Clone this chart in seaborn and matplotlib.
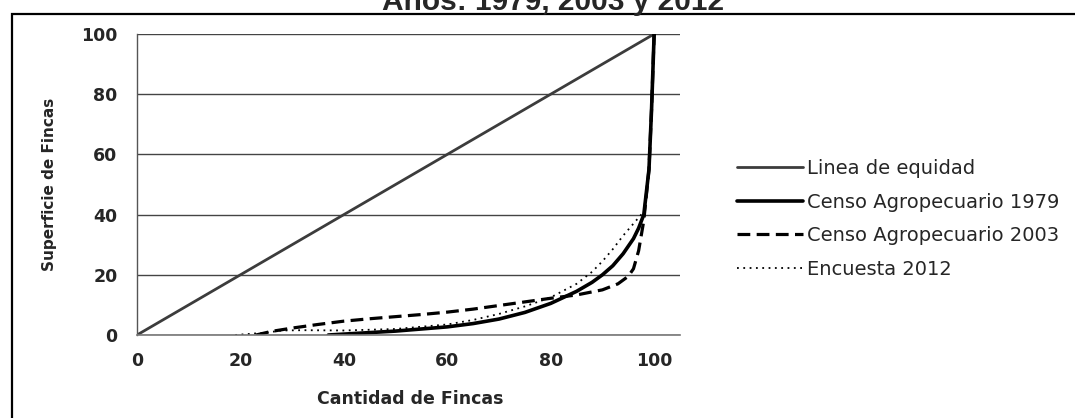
import matplotlib
matplotlib.use("Agg")
import matplotlib.pyplot as plt
import seaborn as sns
import pandas as pd
from matplotlib.patches import Rectangle

# ---- data ----
equidad_x = [0, 100]
equidad_y = [0, 100]

c1979_x = [37, 45, 50, 55, 60, 65, 70, 75, 80, 85, 88, 90, 92, 94, 96, 97, 98, 99, 99.5, 100]
c1979_y = [0, 0.8, 1.3, 2.0, 2.7, 3.8, 5.3, 7.5, 10.5, 14.5, 17.5, 20, 23, 27, 32, 35.5, 40, 55, 75, 100]

c2003_x = [23, 26, 30, 35, 40, 45, 50, 55, 60, 65, 70, 75, 80, 85, 90, 93, 95, 96, 97, 98, 99, 99.5, 100]
c2003_y = [0, 1.2, 2.3, 3.5, 4.6, 5.4, 6.1, 6.8, 7.6, 8.6, 9.8, 11, 12.2, 13.3, 15, 17, 19.5, 22, 28, 38, 55, 75, 100]

e2012_x = [19, 25, 28, 32, 40, 50, 60, 65, 70, 75, 80, 85, 88, 90, 92, 94, 96, 98, 99, 99.5, 100]
e2012_y = [0, 0.8, 1.5, 1.6, 1.5, 2.0, 3.5, 5.0, 7.0, 9.5, 12.5, 17, 21, 24.5, 28.5, 33, 37, 41, 55, 75, 100]

series_names = ["Linea de equidad", "Censo Agropecuario 1979",
                "Censo Agropecuario 2003", "Encuesta 2012"]
x_ticks = [0, 20, 40, 60, 80, 100]
y_ticks = [0, 20, 40, 60, 80, 100]
title = "Años: 1979, 2003 y 2012"
xlabel = "Cantidad de Fincas"
ylabel = "Superficie de Fincas"

# ---- style ----
sns.set_style("white")
plt.rcParams["font.family"] = ["DejaVu Sans"]

fig = plt.figure(figsize=(10.75, 4.18), dpi=100)
ax = fig.add_axes([137/1075, 1-335/418, (680-137)/1075, (335-34)/418])

datasets = [
    (equidad_x, equidad_y, dict(color="#3c3c3c", lw=2.0, linestyle="-")),
    (c1979_x, c1979_y, dict(color="black", lw=2.6, linestyle="-")),
    (c2003_x, c2003_y, dict(color="black", lw=2.3, dashes=(4, 2))),
    (e2012_x, e2012_y, dict(color="black", lw=1.3, dashes=(1, 2.5))),
]
for name, (xs, ys, kw) in zip(series_names, datasets):
    df = pd.DataFrame({"x": xs, "y": ys})
    sns.lineplot(data=df, x="x", y="y", ax=ax, sort=False, label=name, **kw)

ax.set_xlim(0, 105)
ax.set_ylim(0, 100)
ax.set_xticks(x_ticks)
ax.set_yticks(y_ticks)
ax.yaxis.grid(True, color="#444444", lw=1.0)
ax.xaxis.grid(False)
ax.set_axisbelow(True)
for s in ["top", "right"]:
    ax.spines[s].set_visible(False)
ax.spines["left"].set_color("#555555")
ax.spines["left"].set_linewidth(1.0)
ax.spines["bottom"].set_color("#777777")
ax.spines["bottom"].set_linewidth(1.2)
ax.tick_params(axis="both", length=0, labelsize=12.5)
ax.tick_params(axis="y", pad=14)
ax.tick_params(axis="x", pad=12)
for lab in ax.get_xticklabels() + ax.get_yticklabels():
    lab.set_fontweight("bold")

ax.set_xlabel(xlabel, fontsize=12.5, fontweight="bold")
ax.set_ylabel(ylabel, fontsize=11, fontweight="bold", family=["DejaVu Sans"])
ax.xaxis.set_label_coords(0.503, -0.183)
ax.yaxis.set_label_coords(-0.147, 0.5)

ax.get_legend().remove()
handles, labels = ax.get_legend_handles_labels()
fig.legend(handles, labels, loc="center left", bbox_to_anchor=(737/1075, 1-219/418),
           frameon=False, fontsize=14, handlelength=3.4, handletextpad=0.2,
           labelspacing=0.75, borderpad=0, borderaxespad=0)

fig.text(553/1075, 1-10/418, title, ha="center", va="baseline", fontsize=21.5,
         fontweight="bold", family=["Liberation Sans", "DejaVu Sans"])

fig.patches.append(Rectangle((12/1075, -0.2), 1.3, 0.2 + 1-14/418, fill=False,
                             lw=1.6, edgecolor="black", transform=fig.transFigure,
                             figure=fig))

fig.savefig("out.png", dpi=100)
